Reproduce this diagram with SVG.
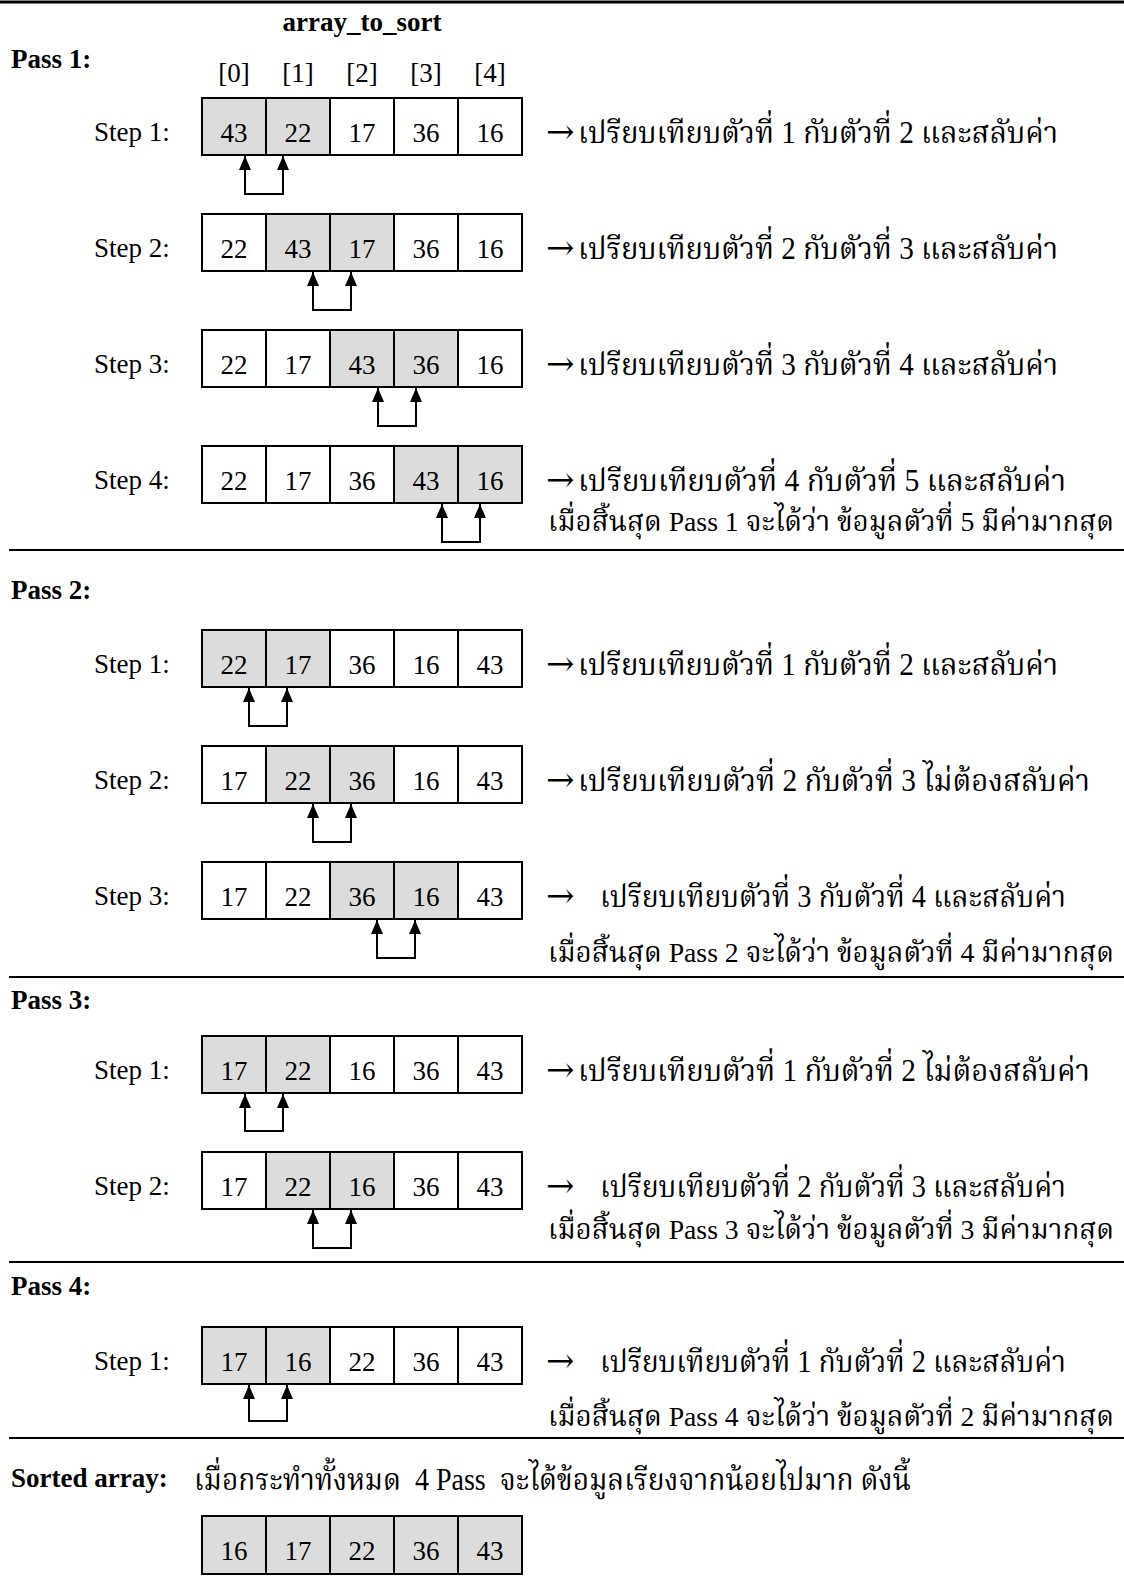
<svg xmlns="http://www.w3.org/2000/svg" width="1124" height="1596" viewBox="0 0 1124 1596">
<style>
.lbl{font-family:"Liberation Serif","Times New Roman",serif;font-size:27px;fill:#000}
.b{font-weight:bold}
.num{font-family:"Liberation Serif","Times New Roman",serif;font-size:27px;text-anchor:middle;fill:#000}
.th{font-family:"Liberation Serif","Noto Serif Thai","Noto Sans Thai",serif;font-size:31px;fill:#000}
.t2{font-size:28px}
.arr{font-family:"DejaVu Serif","DejaVu Sans",serif;font-size:34px;fill:#000}
.c{fill:#fff;stroke:#000;stroke-width:2}
.g{fill:#dcdcdc;stroke:#000;stroke-width:2}
.sep{stroke:#000;stroke-width:2}
.con{fill:none;stroke:#000;stroke-width:2;marker-start:url(#ah);marker-end:url(#ah)}
</style>
<defs>
<marker id="ah" viewBox="0 0 14 12" refX="14" refY="6" markerWidth="14" markerHeight="12" markerUnits="userSpaceOnUse" orient="auto-start-reverse">
<path d="M0,0 L14,6 L0,12 z" fill="#000"/>
</marker>
</defs>

<g id="separators">
<line class="sep" x1="0" y1="2" x2="1124" y2="2" style="stroke-width:3"/>
<line class="sep" x1="9" y1="550" x2="1124" y2="550"/>
<line class="sep" x1="9" y1="977" x2="1124" y2="977"/>
<line class="sep" x1="9" y1="1262" x2="1124" y2="1262"/>
<line class="sep" x1="9" y1="1438" x2="1124" y2="1438"/>
</g>

<g id="headers">
<text class="lbl b" x="362" y="31" text-anchor="middle">array_to_sort</text>
<text class="lbl b" x="11" y="68">Pass 1:</text>
<text class="num" x="234" y="82">[0]</text>
<text class="num" x="298" y="82">[1]</text>
<text class="num" x="362" y="82">[2]</text>
<text class="num" x="426" y="82">[3]</text>
<text class="num" x="490" y="82">[4]</text>
<text class="lbl b" x="11" y="599">Pass 2:</text>
<text class="lbl b" x="11" y="1009">Pass 3:</text>
<text class="lbl b" x="11" y="1295">Pass 4:</text>
<text class="lbl b" x="11" y="1487">Sorted array:</text>
</g>

<g id="p1s1">
<text class="lbl" x="94" y="141">Step 1:</text>
<rect class="g" x="202" y="98" width="64" height="57"/><rect class="g" x="266" y="98" width="64" height="57"/><rect class="c" x="330" y="98" width="64" height="57"/><rect class="c" x="394" y="98" width="64" height="57"/><rect class="c" x="458" y="98" width="64" height="57"/>
<text class="num" x="234" y="141.5">43</text><text class="num" x="298" y="141.5">22</text><text class="num" x="362" y="141.5">17</text><text class="num" x="426" y="141.5">36</text><text class="num" x="490" y="141.5">16</text>
<text class="arr" x="546" y="143">→</text>
<text class="th" x="578" y="143" textLength="480" lengthAdjust="spacingAndGlyphs">เปรียบเทียบตัวที่ 1 กับตัวที่ 2 และสลับค่า</text>
</g>

<g id="p1s2">
<text class="lbl" x="94" y="257">Step 2:</text>
<rect class="c" x="202" y="214" width="64" height="57"/><rect class="g" x="266" y="214" width="64" height="57"/><rect class="g" x="330" y="214" width="64" height="57"/><rect class="c" x="394" y="214" width="64" height="57"/><rect class="c" x="458" y="214" width="64" height="57"/>
<text class="num" x="234" y="257.5">22</text><text class="num" x="298" y="257.5">43</text><text class="num" x="362" y="257.5">17</text><text class="num" x="426" y="257.5">36</text><text class="num" x="490" y="257.5">16</text>
<text class="arr" x="546" y="259">→</text>
<text class="th" x="578" y="259" textLength="480" lengthAdjust="spacingAndGlyphs">เปรียบเทียบตัวที่ 2 กับตัวที่ 3 และสลับค่า</text>
</g>

<g id="p1s3">
<text class="lbl" x="94" y="373">Step 3:</text>
<rect class="c" x="202" y="330" width="64" height="57"/><rect class="c" x="266" y="330" width="64" height="57"/><rect class="g" x="330" y="330" width="64" height="57"/><rect class="g" x="394" y="330" width="64" height="57"/><rect class="c" x="458" y="330" width="64" height="57"/>
<text class="num" x="234" y="373.5">22</text><text class="num" x="298" y="373.5">17</text><text class="num" x="362" y="373.5">43</text><text class="num" x="426" y="373.5">36</text><text class="num" x="490" y="373.5">16</text>
<text class="arr" x="546" y="375">→</text>
<text class="th" x="578" y="375" textLength="480" lengthAdjust="spacingAndGlyphs">เปรียบเทียบตัวที่ 3 กับตัวที่ 4 และสลับค่า</text>
</g>

<g id="p1s4">
<text class="lbl" x="94" y="489">Step 4:</text>
<rect class="c" x="202" y="446" width="64" height="57"/><rect class="c" x="266" y="446" width="64" height="57"/><rect class="c" x="330" y="446" width="64" height="57"/><rect class="g" x="394" y="446" width="64" height="57"/><rect class="g" x="458" y="446" width="64" height="57"/>
<text class="num" x="234" y="489.5">22</text><text class="num" x="298" y="489.5">17</text><text class="num" x="362" y="489.5">36</text><text class="num" x="426" y="489.5">43</text><text class="num" x="490" y="489.5">16</text>
<text class="arr" x="546" y="491">→</text>
<text class="th" x="578" y="491" textLength="488" lengthAdjust="spacingAndGlyphs">เปรียบเทียบตัวที่ 4 กับตัวที่ 5 และสลับค่า</text>
<text class="th t2" x="548" y="531" textLength="566" lengthAdjust="spacingAndGlyphs">เมื่อสิ้นสุด Pass 1 จะได้ว่า ข้อมูลตัวที่ 5 มีค่ามากสุด</text>
</g>

<g id="p2s1">
<text class="lbl" x="94" y="673">Step 1:</text>
<rect class="g" x="202" y="630" width="64" height="57"/><rect class="g" x="266" y="630" width="64" height="57"/><rect class="c" x="330" y="630" width="64" height="57"/><rect class="c" x="394" y="630" width="64" height="57"/><rect class="c" x="458" y="630" width="64" height="57"/>
<text class="num" x="234" y="673.5">22</text><text class="num" x="298" y="673.5">17</text><text class="num" x="362" y="673.5">36</text><text class="num" x="426" y="673.5">16</text><text class="num" x="490" y="673.5">43</text>
<text class="arr" x="546" y="675">→</text>
<text class="th" x="578" y="675" textLength="480" lengthAdjust="spacingAndGlyphs">เปรียบเทียบตัวที่ 1 กับตัวที่ 2 และสลับค่า</text>
</g>

<g id="p2s2">
<text class="lbl" x="94" y="789">Step 2:</text>
<rect class="c" x="202" y="746" width="64" height="57"/><rect class="g" x="266" y="746" width="64" height="57"/><rect class="g" x="330" y="746" width="64" height="57"/><rect class="c" x="394" y="746" width="64" height="57"/><rect class="c" x="458" y="746" width="64" height="57"/>
<text class="num" x="234" y="789.5">17</text><text class="num" x="298" y="789.5">22</text><text class="num" x="362" y="789.5">36</text><text class="num" x="426" y="789.5">16</text><text class="num" x="490" y="789.5">43</text>
<text class="arr" x="546" y="791">→</text>
<text class="th" x="578" y="791" textLength="512" lengthAdjust="spacingAndGlyphs">เปรียบเทียบตัวที่ 2 กับตัวที่ 3 ไม่ต้องสลับค่า</text>
</g>

<g id="p2s3">
<text class="lbl" x="94" y="905">Step 3:</text>
<rect class="c" x="202" y="862" width="64" height="57"/><rect class="c" x="266" y="862" width="64" height="57"/><rect class="g" x="330" y="862" width="64" height="57"/><rect class="g" x="394" y="862" width="64" height="57"/><rect class="c" x="458" y="862" width="64" height="57"/>
<text class="num" x="234" y="905.5">17</text><text class="num" x="298" y="905.5">22</text><text class="num" x="362" y="905.5">36</text><text class="num" x="426" y="905.5">16</text><text class="num" x="490" y="905.5">43</text>
<text class="arr" x="546" y="907">→</text>
<text class="th" x="600" y="907" textLength="466" lengthAdjust="spacingAndGlyphs">เปรียบเทียบตัวที่ 3 กับตัวที่ 4 และสลับค่า</text>
<text class="th t2" x="548" y="962" textLength="566" lengthAdjust="spacingAndGlyphs">เมื่อสิ้นสุด Pass 2 จะได้ว่า ข้อมูลตัวที่ 4 มีค่ามากสุด</text>
</g>

<g id="p3s1">
<text class="lbl" x="94" y="1079">Step 1:</text>
<rect class="g" x="202" y="1036" width="64" height="57"/><rect class="g" x="266" y="1036" width="64" height="57"/><rect class="c" x="330" y="1036" width="64" height="57"/><rect class="c" x="394" y="1036" width="64" height="57"/><rect class="c" x="458" y="1036" width="64" height="57"/>
<text class="num" x="234" y="1079.5">17</text><text class="num" x="298" y="1079.5">22</text><text class="num" x="362" y="1079.5">16</text><text class="num" x="426" y="1079.5">36</text><text class="num" x="490" y="1079.5">43</text>
<text class="arr" x="546" y="1081">→</text>
<text class="th" x="578" y="1081" textLength="512" lengthAdjust="spacingAndGlyphs">เปรียบเทียบตัวที่ 1 กับตัวที่ 2 ไม่ต้องสลับค่า</text>
</g>

<g id="p3s2">
<text class="lbl" x="94" y="1195">Step 2:</text>
<rect class="c" x="202" y="1152" width="64" height="57"/><rect class="g" x="266" y="1152" width="64" height="57"/><rect class="g" x="330" y="1152" width="64" height="57"/><rect class="c" x="394" y="1152" width="64" height="57"/><rect class="c" x="458" y="1152" width="64" height="57"/>
<text class="num" x="234" y="1195.5">17</text><text class="num" x="298" y="1195.5">22</text><text class="num" x="362" y="1195.5">16</text><text class="num" x="426" y="1195.5">36</text><text class="num" x="490" y="1195.5">43</text>
<text class="arr" x="546" y="1197">→</text>
<text class="th" x="600" y="1197" textLength="466" lengthAdjust="spacingAndGlyphs">เปรียบเทียบตัวที่ 2 กับตัวที่ 3 และสลับค่า</text>
<text class="th t2" x="548" y="1239" textLength="566" lengthAdjust="spacingAndGlyphs">เมื่อสิ้นสุด Pass 3 จะได้ว่า ข้อมูลตัวที่ 3 มีค่ามากสุด</text>
</g>

<g id="p4s1">
<text class="lbl" x="94" y="1370">Step 1:</text>
<rect class="g" x="202" y="1327" width="64" height="57"/><rect class="g" x="266" y="1327" width="64" height="57"/><rect class="c" x="330" y="1327" width="64" height="57"/><rect class="c" x="394" y="1327" width="64" height="57"/><rect class="c" x="458" y="1327" width="64" height="57"/>
<text class="num" x="234" y="1370.5">17</text><text class="num" x="298" y="1370.5">16</text><text class="num" x="362" y="1370.5">22</text><text class="num" x="426" y="1370.5">36</text><text class="num" x="490" y="1370.5">43</text>
<text class="arr" x="546" y="1372">→</text>
<text class="th" x="600" y="1372" textLength="466" lengthAdjust="spacingAndGlyphs">เปรียบเทียบตัวที่ 1 กับตัวที่ 2 และสลับค่า</text>
<text class="th t2" x="548" y="1426" textLength="566" lengthAdjust="spacingAndGlyphs">เมื่อสิ้นสุด Pass 4 จะได้ว่า ข้อมูลตัวที่ 2 มีค่ามากสุด</text>
</g>

<g id="sorted">
<text class="th" x="194" y="1490" textLength="717" lengthAdjust="spacingAndGlyphs" xml:space="preserve">เมื่อกระทำทั้งหมด  4 Pass  จะได้ข้อมูลเรียงจากน้อยไปมาก ดังนี้</text>
<rect class="g" x="202" y="1516" width="64" height="58"/><rect class="g" x="266" y="1516" width="64" height="58"/><rect class="g" x="330" y="1516" width="64" height="58"/><rect class="g" x="394" y="1516" width="64" height="58"/><rect class="g" x="458" y="1516" width="64" height="58"/>
<text class="num" x="234" y="1560">16</text><text class="num" x="298" y="1560">17</text><text class="num" x="362" y="1560">22</text><text class="num" x="426" y="1560">36</text><text class="num" x="490" y="1560">43</text>
</g>

<g id="connectors">
<path class="con" d="M245,156 V194 H283 V156"/>
<path class="con" d="M313,272 V310 H351 V272"/>
<path class="con" d="M378,388 V426 H416 V388"/>
<path class="con" d="M442,504 V542 H480 V504"/>
<path class="con" d="M249,688 V726 H287 V688"/>
<path class="con" d="M313,804 V842 H351 V804"/>
<path class="con" d="M377,920 V958 H415 V920"/>
<path class="con" d="M245,1094 V1131 H283 V1094"/>
<path class="con" d="M313,1210 V1248 H351 V1210"/>
<path class="con" d="M249,1385 V1421 H287 V1385"/>
</g>
</svg>
